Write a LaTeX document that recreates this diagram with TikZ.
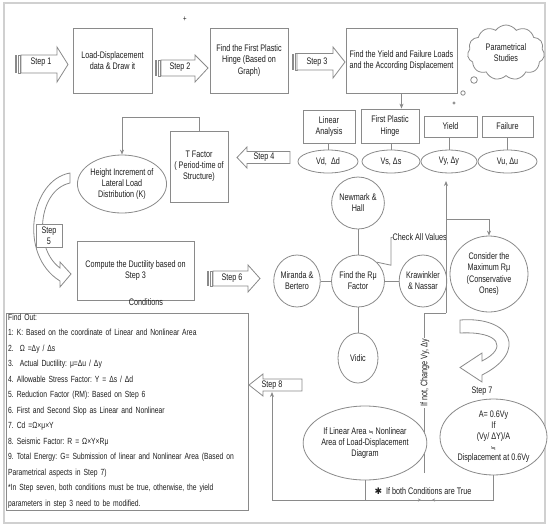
\documentclass[tikz,border=0pt]{standalone}
\usepackage{fontspec}
\setmainfont[FakeStretch=0.76]{Liberation Sans}
\newfontfamily\symf{DejaVu Sans}
\usetikzlibrary{shapes.geometric,shapes.symbols,arrows.meta}
\definecolor{ln}{HTML}{8A8A8A}
\definecolor{tx}{HTML}{1E1E1E}
\definecolor{frm}{HTML}{D0D0D0}
\frenchspacing
\begin{document}
\begin{tikzpicture}[x=1pt,y=-1pt,
  every node/.style={text=tx, font=\fontsize{9.5}{11.2}\selectfont},
  box/.style={draw=ln, line width=0.8pt, fill=white, align=center, inner sep=1pt},
  ell/.style={ellipse, draw=ln, line width=0.8pt, fill=white, align=center, inner sep=0pt},
  conn/.style={draw=ln, line width=0.8pt},
  arr/.style={conn, -{Stealth[length=5pt,width=4pt]}},
  blk/.style={draw=ln, line width=0.8pt, fill=white, line join=miter},
  lbl/.style={inner sep=0pt}]
\useasboundingbox (0,0) rectangle (550,528);
\draw[frm, line width=1.5pt] (4,3) rectangle (545,523);

% stray plus
\node[lbl, font=\fontsize{8}{9}\selectfont] (plus) at (185,19) {+};

% top boxes
\node[box, minimum width=79pt, minimum height=65pt] (b1) at (112.5,60.5) {Load-Displacement\\data \& Draw it};
\node[box, minimum width=78pt, minimum height=65pt] (b2) at (249,60.5) {Find the First Plastic\\Hinge (Based on\\Graph)};
\node[box, minimum width=111pt, minimum height=65pt] (b3) at (401.5,60.5) {Find the Yield and Failure Loads\\and the According Displacement};

% step 1
\fill[ln] (15,55) rectangle (17,73);
\draw[ln, line width=0.6pt] (18.5,55) rectangle (20,73);
\draw[blk] (21,55) -- (57,55) -- (57,47) -- (68,64.5) -- (57,82) -- (57,73) -- (21,73) -- cycle;
\node[lbl] (s1) at (41,62.5) {Step 1};
% step 2
\fill[ln] (155,60) rectangle (157,76);
\draw[ln, line width=0.6pt] (158.5,60) rectangle (160,76);
\draw[blk] (161,60) -- (195,60) -- (195,55) -- (208,68) -- (195,82) -- (195,76) -- (161,76) -- cycle;
\node[lbl] (s2) at (180,67) {Step 2};
% step 3
\fill[ln] (292,53.5) rectangle (294,70);
\draw[ln, line width=0.6pt] (295.5,53.5) rectangle (297,70);
\draw[blk] (297,53.5) -- (333,53.5) -- (333,47) -- (345,62) -- (333,78) -- (333,70) -- (297,70) -- cycle;
\node[lbl] (s3) at (317,62) {Step 3};

% cloud
\node[cloud, draw=ln, line width=0.8pt, cloud puffs=11, cloud puff arc=110, aspect=1.5,
      minimum width=77pt, minimum height=55pt, align=center, inner sep=0pt] (cloud) at (506,52.5) {Parametrical\\Studies};
\draw[ln, line width=0.8pt] (474,80) circle[radius=3.3pt];
\draw[ln, line width=0.8pt] (463,93) circle[radius=2.2pt];
\draw[ln, line width=0.8pt] (454,103) circle[radius=1.1pt];

% analysis boxes
\node[box, minimum width=52pt, minimum height=33pt] (lin) at (329,126.5) {Linear\\Analysis};
\node[box, minimum width=58pt, minimum height=34pt] (fph) at (390,126) {First Plastic\\Hinge};
\node[box, minimum width=53pt, minimum height=21pt] (yld) at (450.5,126.5) {Yield};
\node[box, minimum width=51pt, minimum height=21pt] (fail) at (507.5,126.5) {Failure};
\draw[arr] (b3.south) -- (b3.south |- fph.north);

\node[ell, minimum width=60pt, minimum height=23pt] (vd) at (328,161.5) {Vd,\ \ Δd};
\node[ell, minimum width=58pt, minimum height=23pt] (vs) at (391,161.5) {Vs, Δs};
\node[ell, minimum width=56pt, minimum height=23pt] (vy) at (449,161.5) {Vy, Δy};
\node[ell, minimum width=59pt, minimum height=23pt] (vu) at (507.5,161.5) {Vu, Δu};
\draw[conn] (lin.south -| vd) -- (vd.north);
\draw[conn] (fph.south -| vs) -- (vs.north);
\draw[conn] (yld.south -| vy) -- (vy.north);
\draw[conn] (fail.south -| vu) -- (vu.north);

% step 4
\draw[blk] (290,151.5) -- (247,151.5) -- (247,147) -- (237,157.5) -- (247,168) -- (247,163.5) -- (290,163.5) -- cycle;
\node[lbl] (s4) at (264,157) {Step 4};

% T factor and height increment
\node[box, minimum width=58pt, minimum height=71pt] (tf) at (199,166.5) {T Factor\\( Period-time of\\Structure)};
\node[ell, minimum width=84pt, minimum height=58pt] (hi) at (122,184) {Height Increment of\\Lateral Load\\Distribution (K)};
\draw[arr] (tf.north) -- ++(0,-13) -| (hi.north);

% step 5 curved arrow
\draw[blk] (70,173) .. controls (30,180) and (18,255) .. (60,281) -- (60,287) -- (71,274) -- (60,262) -- (60,268)
  .. controls (33,248) and (38,190) .. (70,183) -- cycle;
\node[box, minimum width=26pt, minimum height=23pt] (s5) at (49,235.5) {Step\\5};

% compute
\node[box, minimum width=117pt, minimum height=59pt] (comp) at (135.5,270.5) {Compute the Ductility based on\\Step 3};
\node[lbl] (cond) at (146,302) {Conditions};

% step 6
\fill[ln] (207,271) rectangle (209,286);
\draw[ln, line width=0.6pt] (210.5,271) rectangle (212,286);
\draw[blk] (213,271) -- (248,271) -- (248,265) -- (260,278.5) -- (248,292) -- (248,286) -- (213,286) -- cycle;
\node[lbl] (s6) at (232,278) {Step 6};

% R mu cluster
\node[ell, minimum width=42pt, minimum height=52pt] (nh) at (358,203) {Newmark \&\\Hall};
\node[ell, minimum width=40pt, minimum height=52pt] (find) at (358,281) {Find the Rμ\\Factor};
\node[ell, minimum width=42pt, minimum height=52pt] (mb) at (297,281) {Miranda \&\\Bertero};
\node[ell, minimum width=40pt, minimum height=52pt] (kn) at (423,281) {Krawinkler\\\& Nassar};
\node[ell, minimum width=40pt, minimum height=50pt] (vid) at (358,358) {Vidic};
\draw[conn] (nh.south) -- (find.north);
\draw[conn] (mb.east) -- (find.west);
\draw[conn] (find.east) -- (kn.west);
\draw[conn] (find.south) -- (vid.north);

% consider
\node[ell, minimum width=78pt, minimum height=76pt] (cons) at (489,274) {Consider the\\Maximum Rμ\\(Conservative\\Ones)};

% check all values and feedback
\node[lbl, anchor=west] (cav) at (392.5,237.5) {Check All Values};
\draw[conn] (find.45) -- (391,265.2) -- (391,237.5) -- (cav.west);
\coordinate (nb) at (424,473);
\coordinate (nt) at (424,313);
\coordinate (vt) at (446,313);
\coordinate (jn) at (446,219);
\draw[conn] (cav.east) -- (446,237.5);
\draw[conn] (nb) -- (nt) -- (vt);
\draw[arr] (vt) -- (446,181);
\draw[arr] (jn) -| (cons.north);
\node[lbl, rotate=90, fill=white, inner sep=1pt] (ifnot) at (425,373) {If not, Change Vy, Δy};

% step 7 curved arrow
\draw[blk] (460,320) .. controls (512,316) and (528,352) .. (482,375) -- (482,382) -- (460,367.5) -- (482,353) -- (482,361)
  .. controls (508,348) and (500,331) .. (460,333) -- cycle;
\node[lbl] (s7) at (482,391) {Step 7};

% condition ellipses
\node[ell, minimum width=107pt, minimum height=76pt, font=\fontsize{9.5}{10.8}\selectfont] (ae) at (493.5,437) {A= 0.6Vy\\If\\(Vy/ ΔY)/A\\{\symf\fontsize{6}{10.8}\selectfont ≒}\\Displacement at 0.6Vy};
\node[ell, minimum width=106pt, minimum height=74pt] (le) at (365,443) {If Linear Area {\symf\fontsize{6}{10}\selectfont ≒} Nonlinear\\Area of Load-Displacement\\Diagram};

% step 8
\draw[blk] (302,379) -- (263,379) -- (263,374) -- (249,385) -- (263,396) -- (263,391) -- (302,391) -- cycle;
\node[lbl] (s8) at (272,385) {Step 8};

% bottom connectors
\coordinate (bl) at (272,500);
\coordinate (s8b) at (272,392);
\draw[conn] (le.south) -- (le.south |- bl);
\draw[arr] (ae.south) -- (ae.south |- bl) -- (bl) -- (s8b);
\draw[draw=ln, -{Stealth[length=3pt,width=3pt]}] (417,500) -- (421,500);
\draw[draw=ln, -{Stealth[length=3pt,width=3pt]}] (436,500) -- (432,500);
\node[lbl] (both) at (423,491) {{\symf\fontsize{9}{10}\selectfont ✱}\ \ If both Conditions are True};

% find out box
\node[draw=ln, line width=0.8pt, anchor=north west, minimum width=242pt, minimum height=197pt, inner sep=0pt] (fo) at (6,313) {};
\node[anchor=north west, text width=238pt, align=left, inner sep=0pt, font=\fontsize{8.9}{15.5}\selectfont] (fot) at (8,313.5) {%
Find Out:\\
1: K: Based on the coordinate of Linear and Nonlinear Area\\
2.\ \ Ω =Δy / Δs\\
3.\ \ Actual Ductility: μ=Δu / Δy\\
4. Allowable Stress Factor: Y = Δs / Δd\\
5. Reduction Factor (RM): Based on Step 6\\
6. First and Second Slop as Linear and Nonlinear\\
7. Cd =Ω×μ×Y\\
8. Seismic Factor: R = Ω×Y×Rμ\\
\makebox[238pt][s]{9. Total Energy: G= Submission of linear and Nonlinear Area (Based on}\\
Parametrical aspects in Step 7)\\
\makebox[238pt][s]{*In Step seven, both conditions must be true, otherwise, the yield}\\
parameters in step 3 need to be modified.};
\end{tikzpicture}
\end{document}
